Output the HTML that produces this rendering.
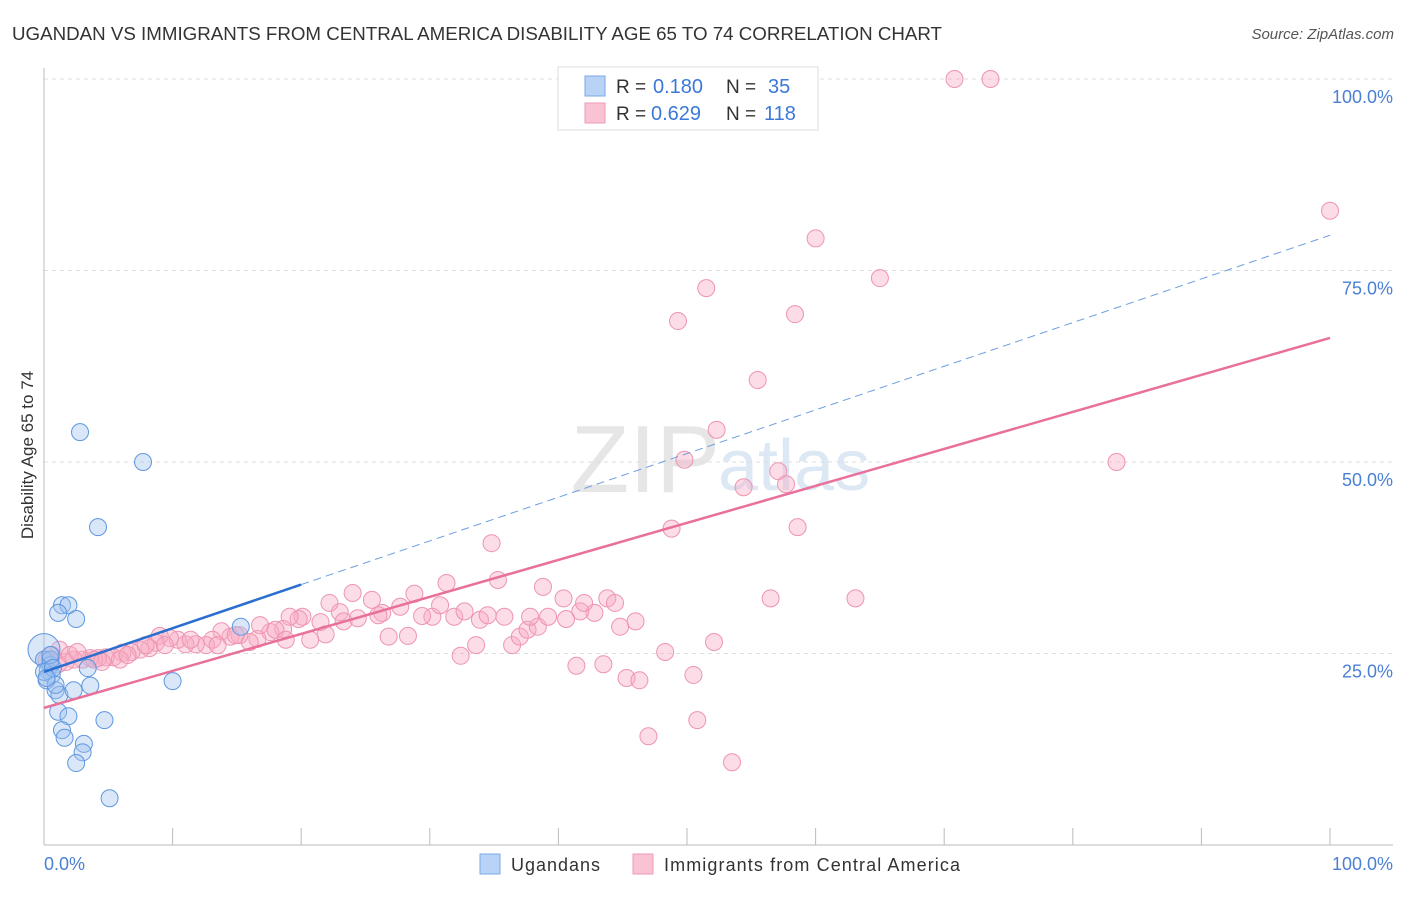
<!DOCTYPE html>
<html><head><meta charset="utf-8"><style>
body{margin:0;background:#fff;font-family:"Liberation Sans",sans-serif}
svg text{font-family:"Liberation Sans",sans-serif}
</style></head><body>
<svg id="chart" width="1406" height="892" xmlns="http://www.w3.org/2000/svg">
<text x="12" y="40" font-size="18" fill="#333" textLength="930" lengthAdjust="spacingAndGlyphs">UGANDAN VS IMMIGRANTS FROM CENTRAL AMERICA DISABILITY AGE 65 TO 74 CORRELATION CHART</text>
<text x="1394" y="39" font-size="15" fill="#555" text-anchor="end" font-style="italic">Source: ZipAtlas.com</text>
<text x="720" y="492" font-size="96" fill="#e6e6e6" text-anchor="end" font-family="Liberation Serif">ZIP</text>
<text x="718" y="490" font-size="72" fill="#dde8f5">atlas</text>
<g id="grid"></g>
<g id="axes"></g>
<g id="marks"></g>
<g id="trends"></g>
<text transform="translate(33,455) rotate(-90)" font-size="17" fill="#333" text-anchor="middle">Disability Age 65 to 74</text>
<text x="44" y="870" font-size="18" fill="#4a7fd4">0.0%</text>
<text x="1393" y="870" font-size="18" fill="#4a7fd4" text-anchor="end">100.0%</text>
<g>
<rect x="558" y="67" width="260" height="63" fill="#fff" stroke="#ddd"/>
<rect x="585" y="76" width="20" height="20" fill="#b8d3f5" stroke="#7aa7e6"/>
<rect x="585" y="103" width="20" height="20" fill="#f9c3d3" stroke="#ee9bb4"/>
<text x="616" y="93" font-size="19" fill="#333">R =</text>
<text x="653" y="93" font-size="20" fill="#3b78d8">0.180</text>
<text x="726" y="93" font-size="19" fill="#333">N =</text>
<text x="768" y="93" font-size="20" fill="#3b78d8">35</text>
<text x="616" y="120" font-size="19" fill="#333">R =</text>
<text x="651" y="120" font-size="20" fill="#3b78d8">0.629</text>
<text x="726" y="120" font-size="19" fill="#333">N =</text>
<text x="764" y="120" font-size="20" fill="#3b78d8">118</text>
</g>
<g>
<rect x="480" y="854" width="20" height="20" fill="#b8d3f5" stroke="#7aa7e6"/>
<text x="511" y="871" font-size="18" fill="#333" textLength="89">Ugandans</text>
<rect x="633" y="854" width="20" height="20" fill="#f9c3d3" stroke="#ee9bb4"/>
<text x="664" y="871" font-size="18" fill="#333" textLength="296">Immigrants from Central America</text>
</g>
</svg>
<script>
const blueX=[0,2.8,7.7,4.2,1.4,1.9,1.1,2.5,0,0.5,0.3,0.6,0.9,1.2,3.6,2.3,3.4,10.0,15.3,1.1,1.9,1.4,1.6,4.7,3.1,3.0,2.5,5.1,0.2,0.5,0,0.9,0.5,0.7,0.2];
const blueY=[25.5,53.9,50.0,41.5,31.3,31.3,30.3,29.5,24.2,23.5,22.8,22.2,20.2,19.6,20.8,20.2,23.1,21.4,28.5,17.4,16.8,15.0,14.0,16.3,13.2,12.1,10.7,6.1,21.5,24.2,22.6,20.9,24.8,23.1,21.8];
const pinkX=[70.8,73.6,100,60.0,65.0,51.5,49.3,58.4,55.5,52.3,49.8,54.4,57.1,57.7,83.4,48.8,58.6,34.8,56.5,63.1,52.1,48.3,50.5,50.8,47.0,53.5,41.4,43.5,45.3,46.3,32.4,33.6,36.4,37.0,37.6,38.4,26.8,28.3,44.8,46.0,42.8,41.7,40.6,39.2,40.4,42.0,43.8,44.4,38.8,35.3,31.3,28.8,30.2,30.8,31.9,32.7,33.9,34.5,35.8,37.8,29.4,27.7,26.3,25.5,24.0,23.0,22.2,23.3,24.4,26.0,20.1,19.8,19.1,21.5,21.9,20.7,18.6,17.6,16.6,16.0,15.2,14.5,13.8,13.1,12.6,11.8,11.0,10.4,9.8,9.0,8.7,8.2,7.5,6.8,6.1,5.4,4.8,4.2,3.6,3.0,2.3,1.7,1.1,0.5,0.2,0.6,1.2,2.0,2.6,3.9,4.5,5.9,6.5,7.9,9.4,11.4,13.5,14.9,16.8,18.0,18.8];
const pinkY=[100,100,82.8,79.2,74.0,72.7,68.4,69.3,60.7,54.2,50.3,46.7,48.8,47.1,50.0,41.3,41.5,39.4,32.2,32.2,26.5,25.2,22.2,16.3,14.2,10.8,23.4,23.6,21.8,21.5,24.7,26.1,26.1,27.2,28.1,28.5,27.2,27.3,28.5,29.2,30.3,30.5,29.5,29.8,32.2,31.6,32.2,31.6,33.7,34.6,34.2,32.8,29.8,31.3,29.8,30.5,29.4,30.0,29.8,29.8,29.9,31.1,30.3,32.0,32.9,30.4,31.6,29.2,29.6,30.0,29.8,29.5,29.8,29.1,27.5,26.8,28.2,27.8,26.9,26.5,27.4,27.2,27.9,26.8,26.1,26.2,26.2,26.8,27.0,27.3,26.4,25.7,25.5,25.2,25.1,24.5,24.5,24.4,24.4,24.2,24.2,23.9,23.6,23.9,24.2,24.8,25.5,24.8,25.2,24.2,23.9,24.2,24.8,26.1,26.1,26.8,26.1,27.4,28.7,28.1,26.8];
const yTicks=[25,50,75,100];
const yTickLabels=["25.0%","50.0%","75.0%","100.0%"];
const xTicks=[0,10,20,30,40,50,60,70,80,90,100];
const blueTrend=[22.6,0.57];
const pinkTrend=[17.9,0.483];
const NS='http://www.w3.org/2000/svg';
const X=v=>44+v*12.86, Y=v=>845-v*7.66;
function mk(t,a,p){const e=document.createElementNS(NS,t);for(const k in a)e.setAttribute(k,a[k]);p.appendChild(e);return e;}
const grid=document.getElementById('grid'),axes=document.getElementById('axes'),marks=document.getElementById('marks'),trends=document.getElementById('trends');
yTicks.forEach((t,i)=>{
  const l=mk('line',{x1:44,x2:1393,y1:Y(t),y2:Y(t),stroke:'#ddd','stroke-dasharray':'4,4'},grid);
  
  
  const tx=mk('text',{x:1393,y:Y(t)+24,'font-size':18,fill:'#4a7fd4','text-anchor':'end'},grid);
  tx.textContent=yTickLabels[i];
  
  
});
const ax=mk('line',{x1:44,x2:1393,y1:845,y2:845,stroke:'#bbb'},axes);


const ay=mk('line',{x1:44,x2:44,y1:68,y2:845,stroke:'#bbb'},axes);


xTicks.forEach(t=>{
  const l=mk('line',{x1:X(t),x2:X(t),y1:828,y2:845,stroke:'#bbb'},axes);
  
  
});
pinkX.forEach((v,i)=>{
  const c=mk('circle',{cx:X(v),cy:Y(pinkY[i]),r:8.5,fill:'rgba(247,170,195,0.4)',stroke:'#ee94b0','stroke-width':1},marks);
  
  
});
blueX.forEach((v,i)=>{
  const c=mk('circle',{cx:X(v),cy:Y(blueY[i]),r:i===0?16:8.5,fill:'rgba(160,195,240,0.4)',stroke:'#5f97e0','stroke-width':1},marks);
  
  
});
const pt=mk('line',{x1:X(0),y1:Y(pinkTrend[0]),x2:X(100),y2:Y(pinkTrend[0]+pinkTrend[1]*100),stroke:'#e8709a','stroke-width':2.5},trends);


const bt=mk('line',{x1:X(0),y1:Y(blueTrend[0]),x2:X(20),y2:Y(blueTrend[0]+blueTrend[1]*20),stroke:'#2a6fd0','stroke-width':2.5},trends);


const bd=mk('line',{x1:X(20),y1:Y(blueTrend[0]+blueTrend[1]*20),x2:X(100),y2:Y(blueTrend[0]+blueTrend[1]*100),stroke:'#6d9ee0','stroke-width':1,'stroke-dasharray':'8,5'},trends);


</script>
</body></html>
